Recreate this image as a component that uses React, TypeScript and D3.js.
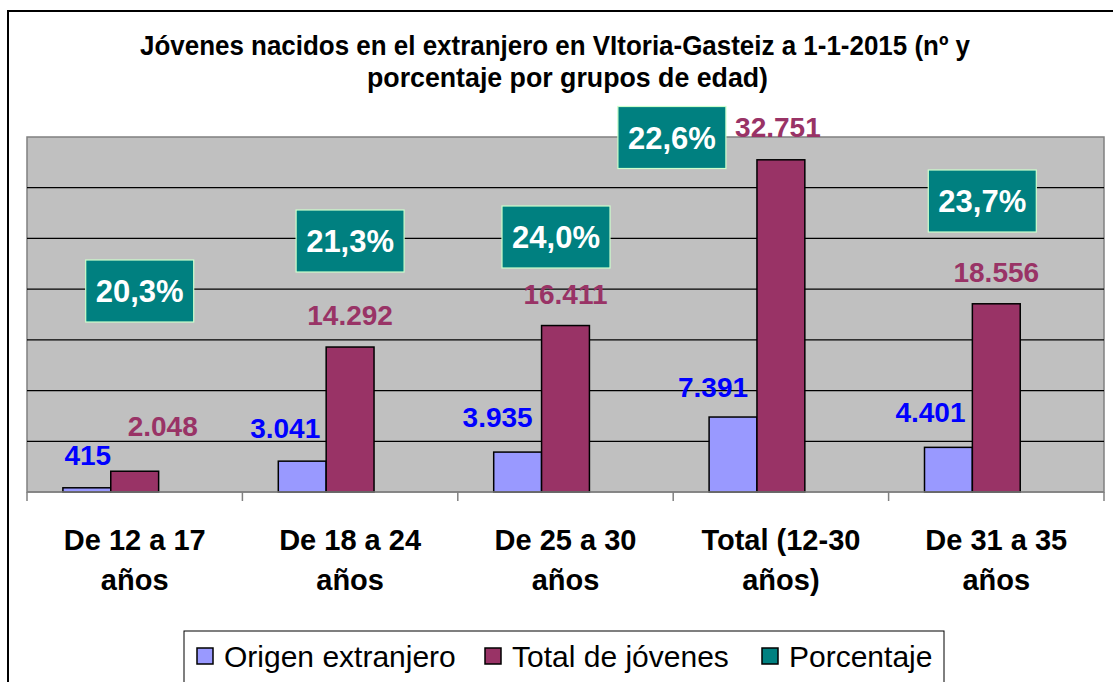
import React from 'react';
import * as d3 from 'd3';

// ---------- data ----------
const categoryLine1 = ['De 12 a 17', 'De 18 a 24', 'De 25 a 30', 'Total (12-30', 'De 31 a 35'];
const categoryLine2 = ['años', 'años', 'años', 'años)', 'años'];
const origenExtranjero = [415, 3041, 3935, 7391, 4401];
const totalJovenes = [2048, 14292, 16411, 32751, 18556];
const porcentaje = [20.3, 21.3, 24.0, 22.6, 23.7];
const yTicks = [0, 5000, 10000, 15000, 20000, 25000, 30000, 35000];
const seriesNames = ['Origen extranjero', 'Total de jóvenes', 'Porcentaje'];
const titleLines = [
  'Jóvenes nacidos en el extranjero en VItoria-Gasteiz a 1-1-2015 (nº y',
  'porcentaje por grupos de edad)',
];

// ---------- layout / style ----------
const W = 1113;
const H = 682;
const plot = { left: 27, right: 1104, top: 137, bottom: 492 };
const colors = {
  blue: '#9999FF',
  red: '#993366',
  teal: '#008080',
  plotBg: '#C0C0C0',
  blueText: '#0000FF',
  redText: '#993366',
  boxBorder: '#CCFFCC',
};
const FONT = 'Arial, "Liberation Sans", sans-serif';
// manual label placement (dx from bar center, dy of text centre from bar top)
const blueLabelOffset = [[1, -33], [-17, -33], [-20, -35], [-20, -30], [-18, -35]];
const redLabelOffset = [[28, -45], [0, -32], [0, -31.5], [-3, -33], [0, -32]];
// percentage boxes: dx from category centre, dy of box centre from plot top
const pctBoxOffset = [[5, 154], [0, 104], [-9.5, 100], [-109, 0.5], [-14, 64]];
const pctBox = { w: 108, h: 62 };
const legendItemX = [197, 485, 762];

const esLocale = d3.formatLocale({
  decimal: ',',
  thousands: '.',
  grouping: [3],
  currency: ['', '€'],
});
const fmtNum = (v: number) => (v >= 1000 ? esLocale.format(',')(v) : String(v));
const fmtPct = (v: number) => esLocale.format('.1f')(v) + '%';

export default function App() {
  const x0 = d3
    .scaleBand<number>()
    .domain(d3.range(categoryLine1.length))
    .range([plot.left, plot.right])
    .paddingInner(0)
    .paddingOuter(0);
  const x1 = d3
    .scaleBand<string>()
    .domain(seriesNames)
    .range([0, x0.bandwidth()])
    .paddingInner(0)
    .paddingOuter(0.75);
  const y = d3.scaleLinear().domain([0, 35000]).range([plot.bottom, plot.top]);
  const bw = x1.bandwidth();

  const valCap = 28 * 0.716;
  const pctFs = 31;

  const tickXs = d3.range(categoryLine1.length + 1).map((i) =>
    i < categoryLine1.length ? (x0(i) as number) : plot.right
  );

  return (
    <svg
      width={W}
      height={H}
      style={{ position: 'absolute', left: 0, top: 0, background: '#fff' }}
      fontFamily={FONT}
    >
      {/* outer chart border */}
      <rect x={8} y={11} width={W + 20} height={H + 20} fill="#fff" stroke="#000" strokeWidth={2} />

      {/* title */}
      <text x={140} y={55} fontSize={27} fontWeight="bold" textLength={830} lengthAdjust="spacingAndGlyphs">
        {titleLines[0]}
      </text>
      <text x={367} y={87} fontSize={27} fontWeight="bold" textLength={401} lengthAdjust="spacingAndGlyphs">
        {titleLines[1]}
      </text>

      {/* plot area */}
      <rect
        x={plot.left}
        y={plot.top}
        width={plot.right - plot.left}
        height={plot.bottom - plot.top}
        fill={colors.plotBg}
        stroke="#808080"
        strokeWidth={1.5}
      />
      {yTicks
        .filter((t) => t > 0 && t < 35000)
        .map((t) => (
          <line key={t} x1={plot.left} x2={plot.right} y1={y(t)} y2={y(t)} stroke="#000" strokeWidth={1.2} />
        ))}

      {/* bars */}
      {origenExtranjero.map((v, i) => (
        <rect
          key={'b' + i}
          x={(x0(i) as number) + (x1(seriesNames[0]) as number)}
          y={y(v)}
          width={bw}
          height={y(0) - y(v)}
          fill={colors.blue}
          stroke="#000"
          strokeWidth={1.5}
        />
      ))}
      {totalJovenes.map((v, i) => (
        <rect
          key={'r' + i}
          x={(x0(i) as number) + (x1(seriesNames[1]) as number)}
          y={y(v)}
          width={bw}
          height={y(0) - y(v)}
          fill={colors.red}
          stroke="#000"
          strokeWidth={1.5}
        />
      ))}

      {/* axis line and ticks */}
      <line x1={plot.left} x2={plot.right} y1={plot.bottom} y2={plot.bottom} stroke="#808080" strokeWidth={1.5} />
      {tickXs.map((tx, i) => (
        <line key={'t' + i} x1={tx} x2={tx} y1={plot.bottom} y2={plot.bottom + 9} stroke="#808080" strokeWidth={1.5} />
      ))}

      {/* category labels */}
      {categoryLine1.map((c, i) => {
        const cx = (x0(i) as number) + x0.bandwidth() / 2;
        return (
          <g key={'c' + i} fontSize={29} fontWeight="bold" textAnchor="middle">
            <text x={cx} y={550}>{c}</text>
            <text x={cx} y={590}>{categoryLine2[i]}</text>
          </g>
        );
      })}

      {/* value labels */}
      {origenExtranjero.map((v, i) => {
        const cx = (x0(i) as number) + (x1(seriesNames[0]) as number) + bw / 2;
        const [dx, dy] = blueLabelOffset[i];
        return (
          <text
            key={'bl' + i}
            x={cx + dx}
            y={y(v) + dy + valCap / 2}
            fontSize={28}
            fontWeight="bold"
            fill={colors.blueText}
            textAnchor="middle"
          >
            {fmtNum(v)}
          </text>
        );
      })}
      {totalJovenes.map((v, i) => {
        const cx = (x0(i) as number) + (x1(seriesNames[1]) as number) + bw / 2;
        const [dx, dy] = redLabelOffset[i];
        return (
          <text
            key={'rl' + i}
            x={cx + dx}
            y={y(v) + dy + valCap / 2}
            fontSize={28}
            fontWeight="bold"
            fill={colors.redText}
            textAnchor="middle"
          >
            {fmtNum(v)}
          </text>
        );
      })}

      {/* percentage labels */}
      {porcentaje.map((p, i) => {
        const cx = (x0(i) as number) + x0.bandwidth() / 2 + pctBoxOffset[i][0];
        const cy = plot.top + pctBoxOffset[i][1];
        return (
          <g key={'p' + i}>
            <rect
              x={cx - pctBox.w / 2}
              y={cy - pctBox.h / 2}
              width={pctBox.w}
              height={pctBox.h}
              fill={colors.teal}
              stroke={colors.boxBorder}
              strokeWidth={1.2}
            />
            <text
              x={cx}
              y={cy + (pctFs * 0.716) / 2}
              fontSize={pctFs}
              fontWeight="bold"
              fill="#fff"
              textAnchor="middle"
            >
              {fmtPct(p)}
            </text>
          </g>
        );
      })}

      {/* legend */}
      <rect x={184} y={631} width={760} height={80} fill="#fff" stroke="#000" strokeWidth={1} />
      {seriesNames.map((s, i) => (
        <g key={'lg' + i}>
          <rect
            x={legendItemX[i]}
            y={648}
            width={16}
            height={16}
            fill={[colors.blue, colors.red, colors.teal][i]}
            stroke="#000"
            strokeWidth={1.5}
          />
          <text x={legendItemX[i] + 27} y={667} fontSize={30}>
            {s}
          </text>
        </g>
      ))}
    </svg>
  );
}
